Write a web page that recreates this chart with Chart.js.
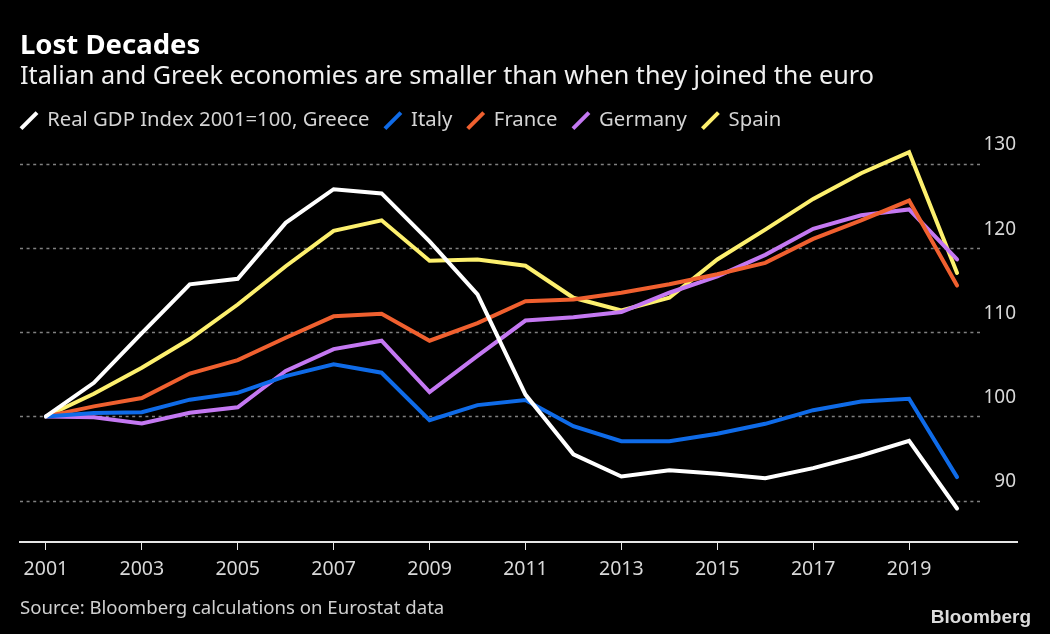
<!DOCTYPE html>
<html><head><meta charset="utf-8">
<script src="https://cdn.jsdelivr.net/npm/chart.js@4"></script>
<style>html,body{margin:0;padding:0;background:#000;overflow:hidden}#w{position:absolute;left:0;top:0;width:1050px;height:634px}</style>
</head><body><div id="w"><canvas id="c" width="1050" height="634"></canvas></div>
<script>
const years=[2001,2002,2003,2004,2005,2006,2007,2008,2009,2010,2011,2012,2013,2014,2015,2016,2017,2018,2019,2020];
const greece=[100,104,109.9,115.7,116.35,123,127,126.5,120.8,114.5,102.6,95.5,92.87,93.6,93.2,92.67,93.86,95.37,97.1,89.07];
const italy=[100,100.4,100.5,102,102.8,104.8,106.2,105.2,99.56,101.35,101.95,98.85,97.07,97.07,97.94,99.13,100.75,101.78,102.1,92.8];
const france=[100,101.2,102.2,105.1,106.7,109.35,111.9,112.2,109,111.1,113.7,113.9,114.7,115.7,116.9,118.25,121.1,123.3,125.65,115.55];
const germany=[100,99.9,99.17,100.44,101.1,105.4,108,109,102.9,107.2,111.4,111.8,112.4,114.7,116.65,119.2,122.3,123.9,124.6,118.65];
const spain=[100,102.7,105.8,109.2,113.3,117.85,122.05,123.3,118.5,118.65,117.9,114.1,112.6,114.1,118.65,122.2,125.85,128.9,131.4,117.05];
const yTicks=[90,100,110,120,130];
const names=["Real GDP Index 2001=100, Greece","Italy","France","Germany","Spain"];
const colors=["#ffffff","#0f6be8","#f0602f","#c478f2","#fdf06e"];
const title="Lost Decades";
const subtitle="Italian and Greek economies are smaller than when they joined the euro";
const source="Source: Bloomberg calculations on Eurostat data";
const brand="Bloomberg";
const FONT="'Noto Sans'";
const series=[greece,italy,france,germany,spain];
const extras={id:"extras",
 afterLayout(ch){ch.legend.left=5.5;ch.legend.top=95;},
 beforeDatasetsDraw(ch){const {ctx}=ch,y=ch.scales.y;
  ctx.save();ctx.strokeStyle="#808080";ctx.lineWidth=1.4;ctx.setLineDash([3,3.6]);
  yTicks.forEach(t=>{const p=Math.round(y.getPixelForValue(t))+.5;ctx.beginPath();ctx.moveTo(20,p);ctx.lineTo(982,p);ctx.stroke();});
  ctx.restore();},
 afterDraw(ch){const {ctx}=ch;ctx.save();
  ctx.fillStyle="#d0d0d0";ctx.font="18.6px "+FONT;ctx.textBaseline="alphabetic";ctx.fillText(source,20,614);
  ctx.fillStyle="#dcdcdc";ctx.font="bold 19px 'Liberation Sans'";ctx.textAlign="right";ctx.fillText(brand,1031,623);
  ctx.restore();}};
new Chart(document.getElementById("c"),{type:"line",
 data:{datasets:series.map((s,i)=>({label:names[i],data:s.map((v,j)=>({x:years[j],y:v})),borderColor:colors[i],backgroundColor:colors[i],borderWidth:4,pointRadius:0,tension:0,borderJoinStyle:"miter",borderCapStyle:"round"}))},
 options:{responsive:false,animation:false,devicePixelRatio:1,
  layout:{padding:{left:20,right:33,top:31,bottom:44.6}},
  scales:{
   x:{type:"linear",min:2000.46,max:2021.25,grid:{drawOnChartArea:false,drawTicks:true,tickLength:8,color:"#e6e6e6",tickWidth:1},border:{color:"#e6e6e6",width:2},
      afterBuildTicks(a){a.ticks=years.filter(v=>v%2==1).map(v=>({value:v}));},
      ticks:{color:"#d8d8d8",font:{family:FONT,size:19.5},padding:8,maxRotation:0,autoSkip:false,callback:v=>String(v)}},
   y:{position:"right",min:85.09,max:131.82,grid:{display:false,drawTicks:false},border:{display:false},
      afterBuildTicks(a){a.ticks=yTicks.map(v=>({value:v}));},
      ticks:{color:"#d8d8d8",font:{family:FONT,size:19},mirror:true,labelOffset:-19,padding:-1}}
  },
  plugins:{
   title:{display:true,text:title,align:"start",color:"#fff",font:{family:FONT,size:27.5,weight:"bold",lineHeight:1.13},padding:{top:0,bottom:0}},
   subtitle:{display:true,text:subtitle,align:"start",color:"#f0f0f0",font:{family:FONT,size:25.2,weight:"normal",lineHeight:1.2},padding:{top:0,bottom:10.5}},
   legend:{display:true,align:"start",position:"top",labels:{color:"#d4d4d4",font:{family:FONT,size:20.3},usePointStyle:true,boxWidth:16,boxHeight:16,padding:15.5,
     generateLabels(ch){return ch.data.datasets.map((d,i)=>({text:d.label,fillStyle:d.borderColor,strokeStyle:d.borderColor,fontColor:"#d4d4d4",lineWidth:4,pointStyle:"line",rotation:-45,datasetIndex:i,hidden:false}));}}},
   tooltip:{enabled:false}
  }},plugins:[extras]});
</script></body></html>
